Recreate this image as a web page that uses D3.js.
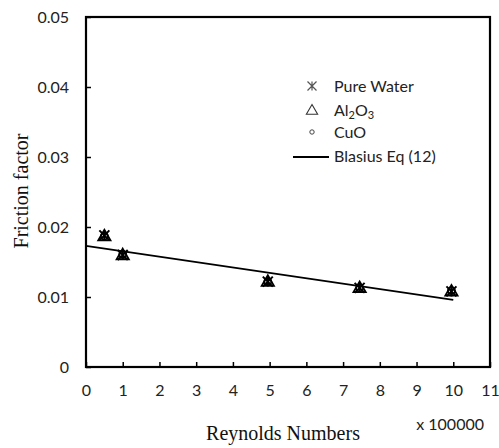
<!DOCTYPE html>
<html>
<head>
<meta charset="utf-8">
<script src="https://cdn.jsdelivr.net/npm/d3@7"></script>
<style>
  html, body { margin: 0; padding: 0; background: #fff; }
  svg { display: block; }
  .tick-label { font-family: Lato, "Open Sans", sans-serif; font-size: 16px; fill: #222; }
  .axis-title { font-family: "Liberation Serif", "DejaVu Serif", serif; font-size: 20px; fill: #111; }
  .legend-text { font-family: Lato, "Open Sans", sans-serif; font-size: 16px; fill: #222; }
</style>
</head>
<body>
<svg id="chart" width="499" height="448"></svg>
<script>
// Reynolds number (x 100000) for each measurement
const reynolds = [0.5, 1.0, 4.95, 7.45, 9.95];
// Friction factor for each fluid
const pureWater = [0.0188, 0.0160, 0.0122, 0.0113, 0.0108];
const al2o3     = [0.0186, 0.0159, 0.0121, 0.0112, 0.0107];
const cuo       = [0.0187, 0.0161, 0.0122, 0.0113, 0.0109];
// Blasius correlation, Eq (12)
const blasiusX = [0, 10];
const blasiusY = [0.0173, 0.0096];
// Axis ticks
const xTicks = [0, 1, 2, 3, 4, 5, 6, 7, 8, 9, 10, 11];
const yTicks = [0, 0.01, 0.02, 0.03, 0.04, 0.05];
const yTickLabels = ["0", "0.01", "0.02", "0.03", "0.04", "0.05"];

const svg = d3.select("#chart");
const plotLeft = 86, plotRight = 490, plotTop = 17, plotBottom = 367;

const x = d3.scaleLinear().domain([0, 11]).range([plotLeft, plotRight]);
const y = d3.scaleLinear().domain([0, 0.05]).range([plotBottom, plotTop]);

// Inward ticks on both axes
const xAxis = d3.axisBottom(x).tickValues(xTicks).tickSizeInner(-5).tickSizeOuter(0)
  .tickPadding(18).tickFormat(d3.format("d"));
const yAxis = d3.axisLeft(y).tickValues(yTicks).tickSizeInner(-5).tickSizeOuter(0)
  .tickPadding(17).tickFormat((d, i) => yTickLabels[i]);

const gx = svg.append("g").attr("transform", `translate(0,${plotBottom})`).call(xAxis);
const gy = svg.append("g").attr("transform", `translate(${plotLeft},0)`).call(yAxis);
[gx, gy].forEach(g => {
  g.select(".domain").remove();
  g.selectAll(".tick line").attr("stroke", "#000").attr("stroke-width", 1.5);
  g.selectAll(".tick text").attr("class", "tick-label");
});
gx.selectAll(".tick text").attr("dy", "0.71em");

// Plot frame
svg.append("rect")
  .attr("x", plotLeft).attr("y", plotTop)
  .attr("width", plotRight - plotLeft).attr("height", plotBottom - plotTop)
  .attr("fill", "none").attr("stroke", "#000").attr("stroke-width", 2.2);

// Blasius line
const line = d3.line().x(d => x(d[0])).y(d => y(d[1]));
svg.append("path")
  .datum(blasiusX.map((v, i) => [v, blasiusY[i]]))
  .attr("d", line)
  .attr("fill", "none").attr("stroke", "#000").attr("stroke-width", 1.8);

// Marker shapes
const starPath = s => `M${-s},${-s}L${s},${s}M${-s},${s}L${s},${-s}M0,${-s}L0,${s}`;
const triPath = d3.symbol().type(d3.symbolTriangle).size(65);

function drawStars(xs, ys, size, sw) {
  svg.append("g").selectAll("path").data(xs).join("path")
    .attr("transform", (d, i) => `translate(${x(d)},${y(ys[i])})`)
    .attr("d", starPath(size))
    .attr("fill", "none").attr("stroke", "#000").attr("stroke-width", sw);
}
function drawTriangles(xs, ys) {
  svg.append("g").selectAll("path").data(xs).join("path")
    .attr("transform", (d, i) => `translate(${x(d)},${y(ys[i])})`)
    .attr("d", triPath())
    .attr("fill", "none").attr("stroke", "#000").attr("stroke-width", 1.8);
}
function drawCircles(xs, ys) {
  svg.append("g").selectAll("circle").data(xs).join("circle")
    .attr("cx", d => x(d)).attr("cy", (d, i) => y(ys[i])).attr("r", 3.5)
    .attr("fill", "none").attr("stroke", "#000").attr("stroke-width", 1.8);
}
drawStars(reynolds, pureWater, 5, 2);
drawTriangles(reynolds, al2o3);
drawCircles(reynolds, cuo);

// Axis titles
svg.append("text").attr("class", "axis-title")
  .attr("x", 283).attr("y", 440).attr("text-anchor", "middle")
  .text("Reynolds Numbers");
svg.append("text").attr("class", "tick-label")
  .attr("x", 484).attr("y", 430).attr("text-anchor", "end")
  .text("x 100000");
svg.append("text").attr("class", "axis-title")
  .attr("transform", "translate(28,191) rotate(-90)").attr("text-anchor", "middle")
  .text("Friction factor");

// Legend
const lg = svg.append("g");
const tx = 334;
lg.append("path").attr("transform", "translate(312,86)").attr("d", starPath(4.5))
  .attr("fill", "none").attr("stroke", "#555").attr("stroke-width", 1.2);
lg.append("text").attr("class", "legend-text").attr("x", tx).attr("y", 92).text("Pure Water");
lg.append("path").attr("transform", "translate(312,111)")
  .attr("d", d3.symbol().type(d3.symbolTriangle).size(55)())
  .attr("fill", "none").attr("stroke", "#333").attr("stroke-width", 1.1);
const al = lg.append("text").attr("class", "legend-text").attr("x", tx).attr("y", 116);
al.append("tspan").text("Al");
al.append("tspan").attr("font-size", "11px").attr("dy", 3).text("2");
al.append("tspan").attr("dy", -3).text("O");
al.append("tspan").attr("font-size", "11px").attr("dy", 3).text("3");
lg.append("circle").attr("cx", 312).attr("cy", 132).attr("r", 2.2)
  .attr("fill", "none").attr("stroke", "#444").attr("stroke-width", 1);
lg.append("text").attr("class", "legend-text").attr("x", tx).attr("y", 138).text("CuO");
lg.append("line").attr("x1", 293).attr("x2", 329).attr("y1", 157).attr("y2", 157)
  .attr("stroke", "#000").attr("stroke-width", 1.8);
lg.append("text").attr("class", "legend-text").attr("x", tx).attr("y", 162).text("Blasius Eq (12)");
</script>
</body>
</html>
